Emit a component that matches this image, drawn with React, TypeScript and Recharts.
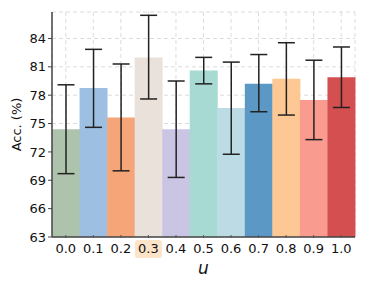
import React from 'react';
import { BarChart, Bar, Cell, XAxis, YAxis, CartesianGrid, ErrorBar } from 'recharts';

const categories = ['0.0', '0.1', '0.2', '0.3', '0.4', '0.5', '0.6', '0.7', '0.8', '0.9', '1.0'];
const accValues = [74.4, 78.75, 75.65, 82.0, 74.4, 80.6, 76.65, 79.2, 79.75, 77.5, 79.9];
const errLow = [69.7, 74.6, 70.0, 77.6, 69.3, 79.2, 71.75, 76.25, 75.9, 73.3, 76.7];
const errHigh = [79.1, 82.85, 81.3, 86.45, 79.5, 82.0, 81.5, 82.3, 83.55, 81.7, 83.1];
const barColors = ['#adc3ab', '#9cbfe2', '#f6a578', '#e9e1da', '#cbc5e4', '#a6dad2', '#bcdbe5', '#5b98c6', '#fdc893', '#f99b8e', '#d44f50'];
const yTicks = [63, 66, 69, 72, 75, 78, 81, 84];
const highlighted = '0.3';

const chartData = categories.map((name, i) => ({
  name,
  acc: accValues[i],
  err: [accValues[i] - errLow[i], errHigh[i] - accValues[i]],
}));

const FONT = 'DejaVu Sans, sans-serif';

// x tick with the small inward tick mark and the highlighted label
const XTick = (props: any) => {
  const { x, y, payload } = props;
  const isHi = payload.value === highlighted;
  return (
    <g>
      <line x1={x} x2={x} y1={y - 1} y2={y - 4} stroke="#555" strokeWidth={1} />
      {isHi && <rect x={x - 13.5} y={y + 1} width={27} height={18} rx={3} fill="#fde3c8" />}
      <text x={x} y={y + 14} textAnchor="middle" fontSize={13} fontFamily={FONT} fill="#111">
        {payload.value}
      </text>
    </g>
  );
};

const App: React.FC = () => {
  return (
    <div style={{ position: 'absolute', left: 0, top: 0, width: 367, height: 288, background: '#fff' }}>
      <BarChart
        width={367}
        height={288}
        data={chartData}
        barCategoryGap={0}
        margin={{ top: 12, right: 12, left: 0, bottom: 0 }}
      >
        <CartesianGrid stroke="#dcdcdc" strokeDasharray="4 3" />
        <XAxis
          dataKey="name"
          tick={<XTick />}
          tickLine={false}
          tickSize={0}
          height={51}
          axisLine={{ stroke: '#444', strokeWidth: 1.5 }}
          label={{ value: 'u', position: 'insideBottom', offset: 14, fontSize: 17, fontStyle: 'italic', fontFamily: FONT, fill: '#111' }}
        />
        <XAxis xAxisId="top" orientation="top" dataKey="name" tick={false} tickLine={false} height={0} axisLine={{ stroke: '#444', strokeWidth: 1.5 }} />
        <YAxis
          domain={[63, 86.8]}
          ticks={yTicks}
          allowDataOverflow
          width={52}
          tickSize={4}
          tickLine={{ stroke: '#444' }}
          axisLine={{ stroke: '#444', strokeWidth: 1.5 }}
          tick={{ fontSize: 13, fontFamily: FONT, fill: '#111' }}
          label={{ value: 'Acc. (%)', angle: -90, position: 'insideLeft', offset: 16, fontSize: 13, fontFamily: FONT, fill: '#111', style: { textAnchor: 'middle' } }}
        />
        <YAxis yAxisId="right" orientation="right" domain={[63, 86.8]} tick={false} tickLine={false} width={0} axisLine={{ stroke: '#444', strokeWidth: 1.5 }} />
        <Bar dataKey="acc" isAnimationActive={false}>
          {chartData.map((d, i) => (
            <Cell key={d.name} fill={barColors[i]} />
          ))}
          <ErrorBar dataKey="err" width={8.5} stroke="#222" strokeWidth={1.5} direction="y" />
        </Bar>
      </BarChart>
    </div>
  );
};

export default App;
